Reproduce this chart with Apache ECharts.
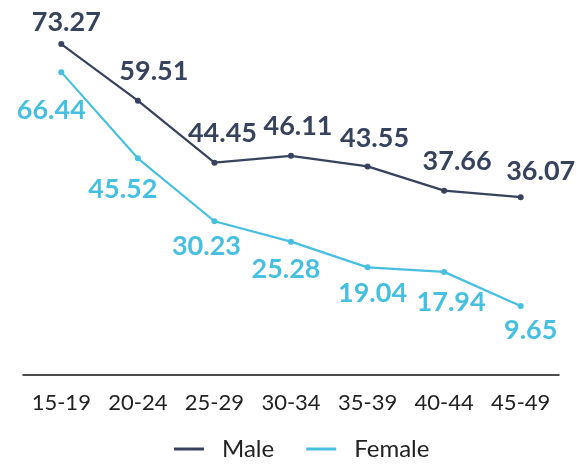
<!DOCTYPE html>
<html>
<head>
<meta charset="utf-8">
<script src="https://cdn.jsdelivr.net/npm/echarts@6/dist/echarts.min.js"></script>
<style>
  html, body { margin: 0; padding: 0; background: #fff; }
  #chart { width: 587px; height: 464px; }
</style>
</head>
<body>
<div id="chart"></div>
<script>
const ageGroups = ['15-19', '20-24', '25-29', '30-34', '35-39', '40-44', '45-49'];
const maleValues = [73.27, 59.51, 44.45, 46.11, 43.55, 37.66, 36.07];
const femaleValues = [66.44, 45.52, 30.23, 25.28, 19.04, 17.94, 9.65];

// label placement relative to each point (centre of text)
const maleLabelShift = [[5, -22], [16, -29], [8, -29], [7, -30], [7, -28], [13, -29], [20, -26]];
const femaleLabelShift = [[-10, 38], [-15, 31], [-8, 25], [-5, 28], [5, 26], [7, 30], [10, 24]];

const MALE = '#37425c';
const FEMALE = '#47bfe0';

const chart = echarts.init(document.getElementById('chart'));

const makeData = (values, shifts) => values.map((v, i) => ({
    value: v,
    label: { offset: shifts[i] }
}));

const labelStyle = (color) => ({
    show: true,
    position: 'inside',
    color: color,
    fontFamily: 'Lato',
    fontWeight: 'bold',
    fontSize: 27,
    formatter: (p) => p.value.toFixed(2)
});

chart.setOption({
    animation: false,
    grid: { left: 23, right: 28, top: 20, bottom: 89 },
    legend: {
        top: 432,
        left: 169,
        itemWidth: 30,
        itemHeight: 3,
        itemGap: 32,
        icon: 'rect',
        textStyle: { fontFamily: 'Lato', fontSize: 24, color: '#222', padding: [0, 0, 0, 13] },
        data: ['Male', 'Female']
    },
    xAxis: {
        type: 'category',
        data: ageGroups,
        boundaryGap: true,
        axisLine: { onZero: false, lineStyle: { color: '#111', width: 1.5 } },
        axisTick: { show: false },
        axisLabel: { interval: 0, fontFamily: 'Lato', fontSize: 22, color: '#222', margin: 17 }
    },
    yAxis: {
        type: 'value',
        min: -7.1,
        max: 79.1,
        show: false,
        splitLine: { show: false }
    },
    series: [
        {
            name: 'Male',
            type: 'line',
            data: makeData(maleValues, maleLabelShift),
            symbol: 'circle',
            symbolSize: 6,
            color: MALE,
            lineStyle: { color: MALE, width: 2.2 },
            itemStyle: { color: MALE },
            label: labelStyle(MALE)
        },
        {
            name: 'Female',
            type: 'line',
            data: makeData(femaleValues, femaleLabelShift),
            symbol: 'circle',
            symbolSize: 6,
            color: FEMALE,
            lineStyle: { color: FEMALE, width: 2.2 },
            itemStyle: { color: FEMALE },
            label: labelStyle(FEMALE)
        }
    ]
});
</script>
</body>
</html>
